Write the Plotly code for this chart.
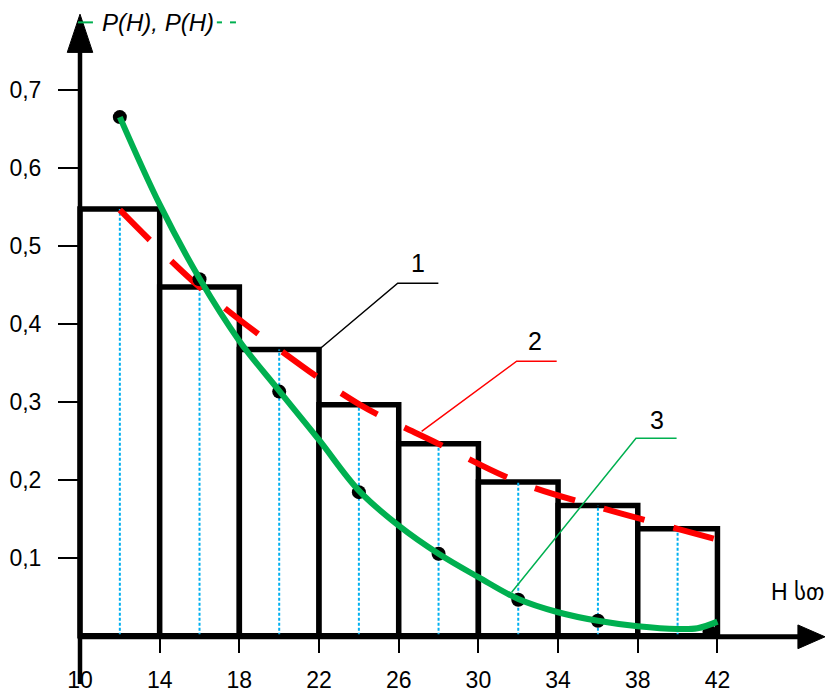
import plotly.graph_objects as go

# Histogram of relative frequencies over H intervals
bin_edges = [10, 14, 18, 22, 26, 30, 34, 38, 42]
bin_mids = [12, 16, 20, 24, 28, 32, 36, 40]
freq = [0.547, 0.447, 0.367, 0.296, 0.246, 0.197, 0.167, 0.137]

# Curve 2: smoothed theoretical distribution (red dashed)
theo_x = [12, 16, 20, 24, 28, 32, 36, 40, 42]
theo_y = [0.546, 0.447, 0.367, 0.297, 0.246, 0.197, 0.165, 0.137, 0.123]

# Curve 3: fitted density (green) and its observed points
fit_x = [12, 14, 16, 18, 20, 22, 24, 26, 28, 30, 32, 34, 36, 38, 40, 41, 42]
fit_y = [0.665, 0.553, 0.458, 0.378, 0.314, 0.251, 0.186, 0.141, 0.105,
         0.075, 0.047, 0.030, 0.019, 0.012, 0.0085, 0.0095, 0.018]
obs_x = [12, 16, 20, 24, 28, 32, 36, 41.6]
obs_y = [0.665, 0.457, 0.313, 0.184, 0.105, 0.046, 0.019, 0.005]

y_ticks = [0.1, 0.2, 0.3, 0.4, 0.5, 0.6, 0.7]

W, H = 827, 693
X0_PX, X_SCALE = 80, 19.92      # px of x=10, px per unit
Y0_PX, Y_SCALE = 644, 790       # px of y=0, px per unit

x_min = 10 - X0_PX / X_SCALE
x_max = 10 + (W - X0_PX) / X_SCALE
y_min = -(H - Y0_PX) / Y_SCALE
y_max = Y0_PX / Y_SCALE

GREEN = "#00B050"
RED = "#FF0000"
BLUE = "#00B0F0"
FONT = "Liberation Sans, Arial, DejaVu Sans, sans-serif"

fig = go.Figure()

fig.add_trace(go.Bar(
    x=bin_mids, y=freq, width=4,
    marker=dict(color="white", line=dict(color="black", width=5.5)),
    hoverinfo="skip",
))

# dotted guides from the axis to each bar top at bin centres
gx, gy = [], []
for m, f in zip(bin_mids, freq):
    gx += [m, m, None]
    gy += [0, f, None]
fig.add_trace(go.Scatter(
    x=gx, y=gy, mode="lines",
    line=dict(color=BLUE, width=2, dash="3px,2px"), hoverinfo="skip",
))

fig.add_trace(go.Scatter(
    x=theo_x, y=theo_y, mode="lines",
    line=dict(color=RED, width=6, dash="42px,30px", shape="spline"),
    hoverinfo="skip",
))

fig.add_trace(go.Scatter(
    x=obs_x, y=obs_y, mode="markers",
    marker=dict(color="black", size=14), hoverinfo="skip",
))

fig.add_trace(go.Scatter(
    x=fit_x, y=fit_y, mode="lines",
    line=dict(color=GREEN, width=6, shape="spline", smoothing=1),
    hoverinfo="skip",
))

shapes = []
# axes with arrowheads
shapes.append(dict(type="line", xref="x", yref="y", x0=10, x1=10,
                   y0=y_min, y1=0.75, line=dict(color="black", width=4.5)))
shapes.append(dict(type="path", xref="x", yref="y",
                   path="M 9.36,0.748 L 10,0.797 L 10.64,0.748 Z",
                   fillcolor="black", line=dict(color="black", width=1)))
shapes.append(dict(type="line", xref="x", yref="y", x0=10, x1=46.2,
                   y0=-0.0015, y1=-0.0015, line=dict(color="black", width=5)))
shapes.append(dict(type="path", xref="x", yref="y",
                   path="M 46.04,0.0137 L 47.4,-0.0015 L 46.04,-0.0167 Z",
                   fillcolor="black", line=dict(color="black", width=1)))

# callout leaders for curves 1, 2, 3
leaders = [
    ([22, 25.95, 27.99], [freq[2], 0.452, 0.452], "black"),
    ([27.15, 31.92, 33.93], [0.262, 0.352, 0.352], RED),
    ([31.67, 37.91, 39.95], [0.0557, 0.253, 0.253], GREEN),
]
for lx, ly, col in leaders:
    shapes.append(dict(type="path", xref="x", yref="y",
                       path=f"M {lx[0]},{ly[0]} L {lx[1]},{ly[1]} L {lx[2]},{ly[2]}",
                       line=dict(color=col, width=1.5)))

# legend marks around the y-axis title
shapes.append(dict(type="line", xref="x", yref="y", x0=9.9, x1=10.65,
                   y0=0.7865, y1=0.7865, line=dict(color=GREEN, width=2)))
for a, b in [(16.87, 17.13), (17.53, 17.83)]:
    shapes.append(dict(type="line", xref="x", yref="y", x0=a, x1=b,
                       y0=0.7865, y1=0.7865, line=dict(color=GREEN, width=2)))

annotations = [
    dict(x=11.0, y=0.7865, text="<i>P(H), P(H)</i>", xanchor="left",
         yanchor="middle", showarrow=False, font=dict(size=24, family=FONT, color="black")),
    dict(x=x_max - 0.05, y=0.0563, text="H სთ", xanchor="right", yanchor="middle",
         showarrow=False, font=dict(size=23, family=FONT, color="black")),
    dict(x=26.98, y=0.478, text="1", showarrow=False,
         font=dict(size=25, family=FONT, color="black")),
    dict(x=32.84, y=0.378, text="2", showarrow=False,
         font=dict(size=25, family=FONT, color="black")),
    dict(x=38.95, y=0.277, text="3", showarrow=False,
         font=dict(size=25, family=FONT, color="black")),
]

fig.update_layout(
    width=W, height=H,
    margin=dict(l=0, r=0, t=0, b=0),
    paper_bgcolor="white", plot_bgcolor="white",
    showlegend=False,
    separators=", ",
    shapes=shapes,
    annotations=annotations,
    xaxis=dict(
        range=[x_min, x_max], anchor="free", position=(H - 646) / H,
        tickmode="array", tickvals=bin_edges,
        ticks="outside", ticklen=14, tickwidth=2, tickcolor="black",
        showgrid=False, zeroline=False, showline=False,
        tickfont=dict(size=23, family=FONT, color="black"),
        ticklabelstandoff=8,
    ),
    yaxis=dict(
        range=[y_min, y_max], anchor="free", position=X0_PX / W,
        tickmode="array", tickvals=y_ticks, tickformat=".1f",
        ticks="outside", ticklen=22, tickwidth=2, tickcolor="black",
        showgrid=False, zeroline=False, showline=False,
        tickfont=dict(size=23, family=FONT, color="black"),
        ticklabelstandoff=12,
    ),
)

fig.write_html("out.html")
